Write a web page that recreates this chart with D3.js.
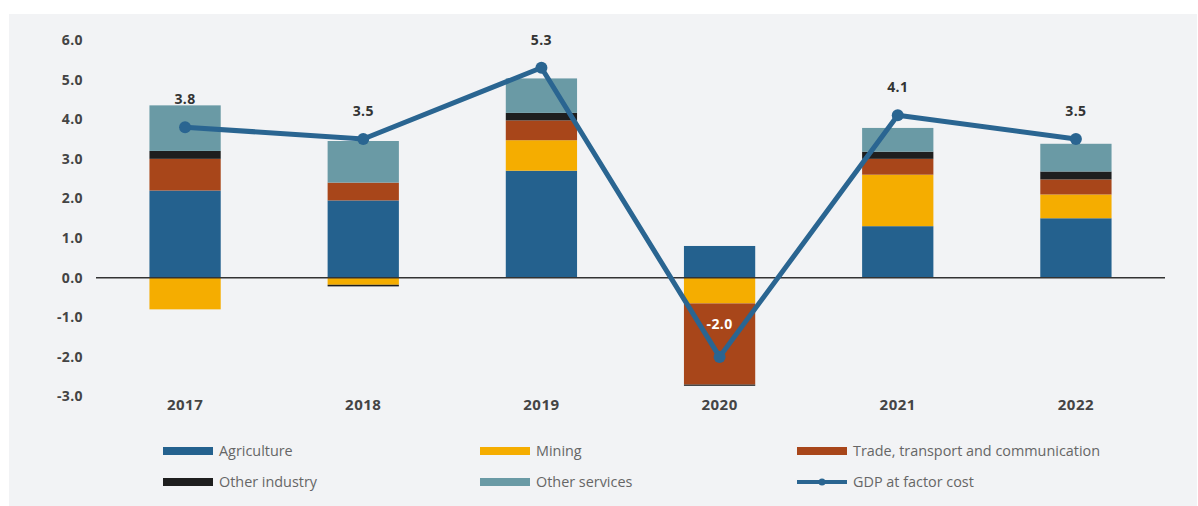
<!DOCTYPE html>
<html><head><meta charset="utf-8">
<script src="https://cdn.jsdelivr.net/npm/d3@7"></script>
<style>
html,body{margin:0;padding:0;background:#fff;}
svg{display:block;}
</style></head>
<body>
<script>
const years = ["2017","2018","2019","2020","2021","2022"];
const seriesNames = ["Agriculture","Mining","Trade, transport and communication","Other industry","Other services"];
const agriculture = [2.2, 1.95, 2.7, 0.8, 1.3, 1.5];
const mining = [-0.8, -0.18, 0.77, -0.65, 1.3, 0.6];
const trade = [0.8, 0.45, 0.5, -2.05, 0.4, 0.38];
const otherIndustry = [0.2, -0.04, 0.19, -0.03, 0.18, 0.2];
const otherServices = [1.15, 1.05, 0.87, 0.0, 0.6, 0.7];
const gdp = [3.8, 3.5, 5.3, -2.0, 4.1, 3.5];
const gdpName = "GDP at factor cost";
const yTicks = [6,5,4,3,2,1,0,-1,-2,-3];
const colors = ["#24618e","#f5ad00","#a8461a","#1e1e1e","#6a9aa5"];
const lineColor = "#2a6591";

const fmt = v => d3.format(".1f")(v).replace("\u2212", "-");

const W = 1198, H = 506;
const svg = d3.select("body").append("svg").attr("width", W).attr("height", H);
svg.append("rect").attr("x", 9).attr("y", 14).attr("width", W - 10).attr("height", H - 14).attr("fill", "#f2f3f5");

const x = d3.scaleBand().domain(years).range([96, 1165]).paddingInner(0.6).paddingOuter(0.3);
const y = d3.scaleLinear().domain([-3, 6]).range([396.5, 40]);

// y axis labels
const yAxis = d3.axisLeft(y).tickValues(yTicks).tickFormat(fmt).tickSize(0).tickPadding(0);
const gy = svg.append("g").attr("transform", "translate(83,0)").call(yAxis);
gy.select(".domain").remove();
gy.selectAll("text").attr("font-family", "Open Sans, sans-serif").attr("font-weight", 700)
  .attr("font-size", 14).attr("letter-spacing", 0.4).attr("fill", "#444");

// stacked bars
const seriesArr = [agriculture, mining, trade, otherIndustry, otherServices];
const rows = years.map((yr, i) => {
  const o = {year: yr};
  seriesNames.forEach((n, k) => o[n] = seriesArr[k][i]);
  return o;
});
const stack = d3.stack().keys(seriesNames).offset(d3.stackOffsetDiverging);
const stacked = stack(rows);
const gBars = svg.append("g");
stacked.forEach((s, k) => {
  gBars.selectAll(null).data(s).enter().append("rect")
    .attr("x", d => x(d.data.year))
    .attr("width", x.bandwidth())
    .attr("y", d => y(Math.max(d[0], d[1])))
    .attr("height", d => Math.abs(y(d[0]) - y(d[1])))
    .attr("fill", colors[k]);
});

// zero line
svg.append("line").attr("x1", 96).attr("x2", 1165).attr("y1", y(0)).attr("y2", y(0))
  .attr("stroke", "#333").attr("stroke-width", 1.5);

// x axis labels
const xAxis = d3.axisBottom(x).tickSize(0).tickPadding(0);
const gx = svg.append("g").attr("transform", "translate(0,399)").call(xAxis);
gx.select(".domain").remove();
gx.selectAll("text").attr("font-family", "Open Sans, sans-serif").attr("font-weight", 700)
  .attr("font-size", 15).attr("letter-spacing", 0.5).attr("fill", "#444");

// GDP line
const cx = d => x(d) + x.bandwidth() / 2;
const line = d3.line().x((d, i) => cx(years[i])).y(d => y(d));
svg.append("path").datum(gdp).attr("d", line).attr("fill", "none")
  .attr("stroke", lineColor).attr("stroke-width", 5).attr("stroke-linejoin", "round");
svg.selectAll(".dot").data(gdp).enter().append("circle")
  .attr("cx", (d, i) => cx(years[i])).attr("cy", d => y(d)).attr("r", 6).attr("fill", lineColor);
svg.selectAll(".lbl").data(gdp).enter().append("text")
  .attr("x", (d, i) => cx(years[i]))
  .attr("y", (d, i) => y(d) - (d < 0 ? 33 : 28))
  .attr("dy", "0.35em").attr("text-anchor", "middle")
  .attr("font-family", "Open Sans, sans-serif").attr("font-weight", 700).attr("font-size", 14)
  .attr("letter-spacing", 0.4)
  .attr("fill", d => d < 0 ? "#fff" : "#333")
  .text(d => fmt(d));

// legend
const legendItems = [
  {name: seriesNames[0], color: colors[0], type: "rect"},
  {name: seriesNames[1], color: colors[1], type: "rect"},
  {name: seriesNames[2], color: colors[2], type: "rect"},
  {name: seriesNames[3], color: colors[3], type: "rect"},
  {name: seriesNames[4], color: colors[4], type: "rect"},
  {name: gdpName, color: lineColor, type: "line"}
];
const colX = [163, 480, 797];
const rowY = [451, 482];
legendItems.forEach((it, i) => {
  const lx = colX[i % 3], ly = rowY[Math.floor(i / 3)];
  const g = svg.append("g").attr("transform", `translate(${lx},${ly})`);
  if (it.type === "rect") {
    g.append("rect").attr("x", 0).attr("y", -4).attr("width", 50).attr("height", 8).attr("fill", it.color);
  } else {
    g.append("line").attr("x1", 0).attr("x2", 50).attr("y1", 0).attr("y2", 0)
      .attr("stroke", it.color).attr("stroke-width", 4);
    g.append("circle").attr("cx", 25).attr("cy", 0).attr("r", 3.5).attr("fill", it.color);
  }
  g.append("text").attr("x", 56).attr("y", 0).attr("dy", "0.35em")
    .attr("font-family", "Open Sans, sans-serif").attr("font-size", 14.4).attr("fill", "#666")
    .text(it.name);
});
</script>
</body></html>
